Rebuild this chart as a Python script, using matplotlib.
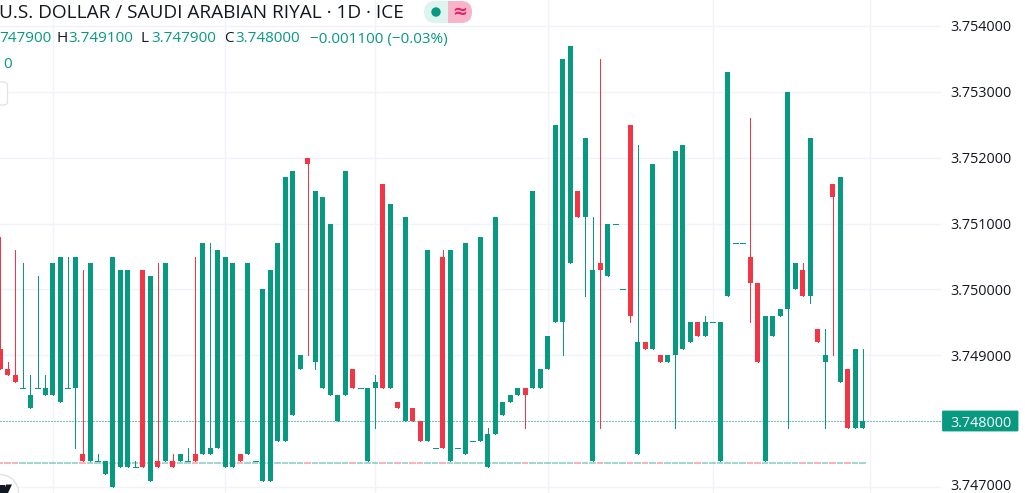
import matplotlib
matplotlib.use("Agg")
import matplotlib.pyplot as plt
from matplotlib.patches import FancyBboxPatch, Circle, Rectangle
from matplotlib.ticker import FormatStrFormatter
from matplotlib.transforms import ScaledTranslation

opens = [
 3.7491,3.7488,3.7487,3.7485,3.7482,3.7485,3.7484,3.7484,3.7483,3.7485,
 3.7485,3.7475,3.7474,3.7474,3.7472,3.7470,3.7473,3.7473,3.7473,3.7503,
 3.7471,3.7474,3.7474,3.7474,3.7474,3.7474,3.7475,3.7475,3.7475,3.7476,
 3.7473,3.7473,3.7475,3.7475,3.7474,3.7471,3.7471,3.7477,3.7477,3.7481,
 3.7488,3.7520,3.7489,3.7485,3.7484,3.7480,3.7484,3.7488,3.7485,3.7474,
 3.7485,3.7516,3.7485,3.7483,3.7480,3.7482,3.7480,3.7477,3.7476,3.7505,
 3.7474,3.7476,3.7475,3.7477,3.7477,3.7473,3.7478,3.7481,3.7483,3.7484,
 3.7485,3.7485,3.7485,3.7488,3.7495,3.7495,3.7504,3.7515,3.7511,3.7474,
 3.7504,3.7502,3.7510,3.7500,3.7525,3.7475,3.7492,3.7491,3.7490,3.7489,
 3.7490,3.7491,3.7492,3.7495,3.7493,3.7495,3.7474,3.7499,3.7507,3.7507,
 3.7505,3.7501,3.7474,3.7493,3.7496,3.7497,3.7500,3.7503,3.7499,3.7494,
 3.7489,3.7516,3.7486,3.7488,3.7479,3.7479]
highs = [
 3.7508,3.7489,3.7506,3.7504,3.7487,3.7502,3.7487,3.7504,3.7505,3.7505,
 3.7505,3.7503,3.7504,3.7475,3.7474,3.7505,3.7503,3.7503,3.7474,3.7503,
 3.7502,3.7504,3.7504,3.7475,3.7475,3.7476,3.7505,3.7507,3.7507,3.7506,
 3.7505,3.7504,3.7475,3.7504,3.7474,3.7500,3.7503,3.7507,3.7517,3.7518,
 3.7490,3.7520,3.7515,3.7514,3.7510,3.7484,3.7518,3.7488,3.7485,3.7485,
 3.7487,3.7516,3.7513,3.7483,3.7511,3.7482,3.7480,3.7506,3.7476,3.7506,
 3.7506,3.7476,3.7507,3.7477,3.7508,3.7479,3.7511,3.7483,3.7484,3.7485,
 3.7485,3.7515,3.7488,3.7493,3.7525,3.7535,3.7537,3.7515,3.7523,3.7511,
 3.7535,3.7510,3.7510,3.7500,3.7525,3.7522,3.7492,3.7519,3.7490,3.7490,
 3.7521,3.7522,3.7495,3.7495,3.7496,3.7495,3.7495,3.7533,3.7507,3.7507,
 3.7526,3.7501,3.7496,3.7496,3.7497,3.7530,3.7504,3.7504,3.7523,3.7494,
 3.7494,3.7516,3.7517,3.7488,3.7491,3.7491]
lows = [
 3.7488,3.7487,3.7486,3.7485,3.7482,3.7485,3.7484,3.7484,3.7483,3.7485,
 3.7476,3.7474,3.7474,3.7474,3.7472,3.7470,3.7473,3.7473,3.7473,3.7473,
 3.7471,3.7473,3.7474,3.7473,3.7474,3.7474,3.7474,3.7475,3.7475,3.7476,
 3.7473,3.7473,3.7474,3.7475,3.7474,3.7471,3.7471,3.7477,3.7477,3.7481,
 3.7488,3.7490,3.7488,3.7485,3.7484,3.7480,3.7484,3.7485,3.7485,3.7474,
 3.7479,3.7485,3.7485,3.7482,3.7480,3.7480,3.7477,3.7477,3.7476,3.7476,
 3.7474,3.7476,3.7475,3.7477,3.7477,3.7473,3.7478,3.7481,3.7483,3.7484,
 3.7479,3.7485,3.7485,3.7488,3.7495,3.7490,3.7504,3.7511,3.7499,3.7474,
 3.7479,3.7502,3.7510,3.7500,3.7495,3.7475,3.7491,3.7491,3.7489,3.7489,
 3.7479,3.7491,3.7492,3.7493,3.7493,3.7495,3.7474,3.7499,3.7507,3.7507,
 3.7495,3.7489,3.7474,3.7493,3.7496,3.7479,3.7500,3.7499,3.7498,3.7492,
 3.7479,3.7490,3.7486,3.7479,3.7479,3.7479]
closes = [
 3.7488,3.7487,3.7486,3.7485,3.7484,3.7485,3.7485,3.7504,3.7505,3.7485,
 3.7505,3.7474,3.7504,3.7474,3.7474,3.7505,3.7503,3.7503,3.7473,3.7473,
 3.7502,3.7473,3.7504,3.7473,3.7475,3.7474,3.7474,3.7507,3.7476,3.7506,
 3.7505,3.7504,3.7474,3.7504,3.7474,3.7500,3.7503,3.7507,3.7517,3.7518,
 3.7490,3.7519,3.7515,3.7514,3.7510,3.7484,3.7518,3.7485,3.7485,3.7485,
 3.7486,3.7485,3.7513,3.7482,3.7511,3.7480,3.7477,3.7506,3.7476,3.7476,
 3.7506,3.7476,3.7507,3.7477,3.7508,3.7478,3.7511,3.7483,3.7484,3.7485,
 3.7484,3.7515,3.7488,3.7493,3.7525,3.7535,3.7537,3.7511,3.7523,3.7503,
 3.7503,3.7510,3.7510,3.7500,3.7496,3.7492,3.7491,3.7519,3.7489,3.7490,
 3.7521,3.7522,3.7495,3.7493,3.7495,3.7495,3.7495,3.7533,3.7507,3.7507,
 3.7501,3.7489,3.7496,3.7496,3.7497,3.7530,3.7504,3.7499,3.7523,3.7492,
 3.7490,3.7514,3.7517,3.7479,3.7491,3.7480]

price_ticks = [3.747, 3.748, 3.749, 3.750, 3.751, 3.752, 3.753, 3.754]
month_gridlines = [7, 30, 50, 73, 95, 116]
last_price = 3.7480
prev_close_level = 3.74736

GREEN = "#089981"
RED = "#F23645"
TEXT = "#131722"
GRID = "#f0f3fa"
W, H = 1025, 493

plt.rcParams["font.family"] = ["Open Sans", "DejaVu Sans"]
fig = plt.figure(figsize=(W / 100, H / 100), dpi=100, facecolor="white")
ax = fig.add_axes([0, 0, 941 / W, 1])
ax.set_xlim(0, 941 / 7.5)
ax.set_ylim(3.746912, 3.754393)
for s in ax.spines.values():
    s.set_visible(False)
ax.set_axisbelow(True)
ax.set_xticks([])
for g in month_gridlines:
    ax.axvline(g, color=GRID, lw=1.0, zorder=0)
for p in price_ticks:
    ax.axhline(p, color=GRID, lw=1.0, zorder=0)

ax.yaxis.tick_right()
ax.set_yticks(price_ticks)
ax.yaxis.set_major_formatter(FormatStrFormatter("%.6f"))
ax.tick_params(axis="y", length=0, pad=7, labelsize=10.4, labelcolor=TEXT)

xs = list(range(len(opens)))
colors = [GREEN if c >= o else RED for o, c in zip(opens, closes)]

# previous-close line: one pale dash under each candle
for x, col in zip(xs, colors):
    ax.plot([x - 0.46, x + 0.46], [prev_close_level] * 2, color=col, lw=1.2,
            alpha=0.45, solid_capstyle="butt", zorder=1)
# last price dotted line
ax.axhline(last_price, color=GREEN, lw=0.72, ls=(0, (1, 2)), zorder=1.5)

ax.vlines(xs, lows, highs, colors=colors, lw=0.72, antialiased=False, zorder=2)
tops = [max(o, c) for o, c in zip(opens, closes)]
bots = [min(o, c) for o, c in zip(opens, closes)]
ax.bar(xs, [t - b for t, b in zip(tops, bots)], bottom=bots, width=5 / 7.5,
       color=colors, linewidth=0, zorder=3)
for x, o, c, col in zip(xs, opens, closes, colors):
    if o == c:
        ax.hlines(o, x - 2.5 / 7.5, x + 2.5 / 7.5, colors=col, lw=0.72,
                  antialiased=False, zorder=3)


def px(x, y):
    """pixel position, top-left origin, as figure fraction"""
    return x / W, 1 - y / H


# current price label
fig.add_artist(FancyBboxPatch(px(942.5, 431), 75.5 / W, 20 / H, transform=fig.transFigure,
                              boxstyle="round,pad=0,rounding_size=0.001",
                              fc=GREEN, ec=GREEN, lw=0.6, zorder=-1))
for lbl, p in zip(ax.get_yticklabels(), price_ticks):
    if abs(p - last_price) < 1e-9:
        lbl.set_color("white")
    if abs(p - 3.747) < 1e-9:
        lbl.set_transform(lbl.get_transform() + ScaledTranslation(0, 2.5 / 100, fig.dpi_scale_trans))

# header
fig.text(*px(-1, 13.5), "U.S. DOLLAR / SAUDI ARABIAN RIYAL · 1D · ICE", fontsize=13.65,
         color=TEXT, va="center", ha="left")
y2 = 39
fs2 = 11
fig.text(*px(-1, y2), "747900", fontsize=fs2, color=GREEN, va="center")
fig.text(*px(57, y2), "H", fontsize=fs2, color=TEXT, va="center")
fig.text(*px(68, y2), "3.749100", fontsize=fs2, color=GREEN, va="center")
fig.text(*px(141, y2), "L", fontsize=fs2, color=TEXT, va="center")
fig.text(*px(151, y2), "3.747900", fontsize=fs2, color=GREEN, va="center")
fig.text(*px(224, y2), "C", fontsize=fs2, color=TEXT, va="center")
fig.text(*px(235, y2), "3.748000", fontsize=fs2, color=GREEN, va="center")
fig.text(*px(310, y2), "−0.001100 (−0.03%)", fontsize=fs2, color=GREEN, va="center")
fig.text(*px(3.5, 64), "0", fontsize=fs2, color=GREEN, va="center")

# left button fragment
fig.add_artist(FancyBboxPatch(px(-20, 105), 27.5 / W, 23 / H, transform=fig.transFigure,
                              boxstyle="round,pad=0,rounding_size=0.004",
                              fc="white", ec="#e0e3eb", lw=0.9, mutation_aspect=2.08, zorder=5))

# status pills, drawn in pixels
pill = fig.add_axes([0, 0, 1, 1], facecolor="none")
pill.set_xlim(0, W)
pill.set_ylim(H, 0)
pill.axis("off")
pill.add_patch(FancyBboxPatch((424, 1), 48, 22, boxstyle="round,pad=0,rounding_size=11",
                              fc="#dff3ef", ec="none"))
clip = Rectangle((448, 0), 30, 30, transform=pill.transData)
pink = FancyBboxPatch((424, 1), 48, 22, boxstyle="round,pad=0,rounding_size=11",
                      fc="#f7b5c9", ec="none")
pill.add_patch(pink)
pink.set_clip_path(clip)
pill.add_patch(Circle((436, 12), 4.7, fc=GREEN, ec="none"))
pill.text(460, 12, "≈", fontsize=13, color="#e91e63", ha="center", va="center",
          family="DejaVu Sans", weight="bold")
# logo fragment
pill.add_patch(Circle((0, 493), 18.5, fc="white", ec="#e0e3eb", lw=1.0))
pill.add_patch(Rectangle((0, 484.5), 5, 8.5, fc=TEXT, ec="none"))
pill.fill([6, 12, 8, 3], [484.5, 484.5, 493, 493], color=TEXT, lw=0)

fig.savefig("out.png", dpi=100)
